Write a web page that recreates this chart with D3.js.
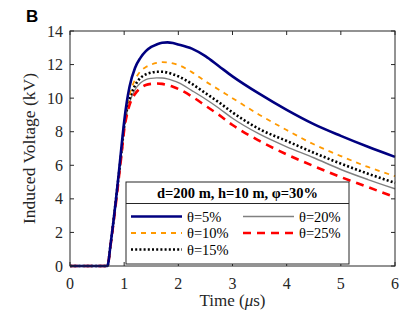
<!DOCTYPE html>
<html>
<head>
<meta charset="utf-8">
<script src="https://cdn.jsdelivr.net/npm/d3@7"></script>
<style>
  body { margin: 0; background: #fff; }
  svg { display: block; }
</style>
</head>
<body>
<svg id="chart" width="414" height="321"></svg>
<script>
// induced voltage waveforms, d=200 m, h=10 m
var time = [0, 0.69, 0.75, 0.8, 0.85, 0.9, 0.95, 1.0, 1.05, 1.1, 1.2, 1.3, 1.4, 1.5, 1.6, 1.7, 1.8, 1.9, 2.0, 2.25, 2.5, 2.75, 3.0, 3.5, 4.0, 4.5, 5.0, 5.5, 6.0];
var theta5  = [0, 0, 1.3, 2.6, 4.0, 5.5, 7.1, 8.6, 9.8, 10.7, 11.8, 12.4, 12.8, 13.05, 13.2, 13.3, 13.32, 13.28, 13.2, 12.95, 12.5, 11.9, 11.3, 10.25, 9.3, 8.45, 7.75, 7.1, 6.5];
var theta10 = [0, 0, 1.3, 2.6, 4.0, 5.4, 6.9, 8.4, 9.5, 10.2, 11.1, 11.6, 11.85, 12.0, 12.1, 12.15, 12.13, 12.07, 11.98, 11.55, 11.0, 10.5, 10.0, 9.0, 8.1, 7.25, 6.55, 5.9, 5.35];
var theta15 = [0, 0, 1.3, 2.6, 4.0, 5.4, 6.8, 8.3, 9.3, 9.95, 10.75, 11.2, 11.42, 11.52, 11.57, 11.57, 11.52, 11.42, 11.3, 10.85, 10.3, 9.75, 9.15, 8.15, 7.45, 6.75, 6.1, 5.5, 4.95];
var theta20 = [0, 0, 1.3, 2.6, 4.0, 5.4, 6.8, 8.2, 9.15, 9.75, 10.5, 10.9, 11.1, 11.18, 11.21, 11.2, 11.15, 11.05, 10.93, 10.45, 9.95, 9.4, 8.8, 7.85, 7.1, 6.45, 5.75, 5.15, 4.6];
var theta25 = [0, 0, 1.25, 2.5, 3.8, 5.2, 6.6, 8.1, 9.0, 9.6, 10.25, 10.6, 10.78, 10.85, 10.87, 10.85, 10.78, 10.68, 10.55, 10.1, 9.55, 9.0, 8.4, 7.45, 6.65, 5.95, 5.3, 4.7, 4.1];

var seriesNames = ["θ=5%", "θ=10%", "θ=15%", "θ=20%", "θ=25%"];
var xTicks = [0, 1, 2, 3, 4, 5, 6];
var yTicks = [0, 2, 4, 6, 8, 10, 12, 14];

var styles = [
  {color: "#000080", width: 2.6, dash: null},
  {color: "#ff9900", width: 1.8, dash: "5,5"},
  {color: "#000000", width: 2.6, dash: "2,2.2"},
  {color: "#808080", width: 1.4, dash: null},
  {color: "#ff0000", width: 2.6, dash: "8,6"}
];
var allSeries = [theta5, theta10, theta15, theta20, theta25];
var drawOrder = [3, 2, 1, 4, 0];

var svg = d3.select("#chart");
var pLeft = 70, pRight = 395, pTop = 31, pBottom = 266;

var x = d3.scaleLinear().domain([0, 6]).range([pLeft, pRight]);
var y = d3.scaleLinear().domain([0, 14]).range([pBottom, pTop]);
var serif = "'Liberation Serif', 'Times New Roman', serif";
var axisColor = "#262626";

// panel label
svg.append("text").attr("x", 26).attr("y", 22)
  .attr("font-family", "'Liberation Sans', Arial, sans-serif")
  .attr("font-weight", "bold").attr("font-size", 17).text("B");

var line = d3.line()
  .x(function(d, i) { return x(time[i]); })
  .y(function(d) { return y(d); })
  .curve(d3.curveMonotoneX);

var plot = svg.append("g");
drawOrder.forEach(function(k) {
  var s = styles[k];
  plot.append("path").datum(allSeries[k])
    .attr("fill", "none")
    .attr("stroke", s.color)
    .attr("stroke-width", s.width)
    .attr("stroke-dasharray", s.dash)
    .attr("d", line);
});

// axes with mirrored inward ticks
var tl = 4;
var ax = svg.append("g").attr("stroke", axisColor).attr("stroke-width", 1).attr("fill", "none");
ax.append("rect").attr("x", pLeft).attr("y", pTop).attr("width", pRight - pLeft).attr("height", pBottom - pTop);
xTicks.forEach(function(t) {
  ax.append("line").attr("x1", x(t)).attr("x2", x(t)).attr("y1", pBottom).attr("y2", pBottom - tl);
  ax.append("line").attr("x1", x(t)).attr("x2", x(t)).attr("y1", pTop).attr("y2", pTop + tl);
});
yTicks.forEach(function(t) {
  ax.append("line").attr("y1", y(t)).attr("y2", y(t)).attr("x1", pLeft).attr("x2", pLeft + tl);
  ax.append("line").attr("y1", y(t)).attr("y2", y(t)).attr("x1", pRight).attr("x2", pRight - tl);
});

svg.append("g").selectAll("text").data(xTicks).enter().append("text")
  .attr("x", function(d) { return x(d); }).attr("y", 288.5)
  .attr("text-anchor", "middle").attr("font-family", serif).attr("font-size", 16)
  .attr("fill", axisColor).text(function(d) { return d; });

svg.append("g").selectAll("text").data(yTicks).enter().append("text")
  .attr("x", 63).attr("y", function(d) { return y(d) + 5.5; })
  .attr("text-anchor", "end").attr("font-family", serif).attr("font-size", 16)
  .attr("fill", axisColor).text(function(d) { return d; });

var xt = svg.append("text").attr("x", (pLeft + pRight) / 2).attr("y", 306)
  .attr("text-anchor", "middle").attr("font-family", serif).attr("font-size", 17).attr("fill", axisColor);
xt.append("tspan").text("Time (");
xt.append("tspan").attr("font-style", "italic").text("μ");
xt.append("tspan").text("s)");

svg.append("text")
  .attr("transform", "translate(35," + ((pTop + pBottom) / 2) + ") rotate(-90)")
  .attr("text-anchor", "middle").attr("font-family", serif).attr("font-size", 17.5)
  .attr("fill", axisColor).text("Induced Voltage (kV)");

// legend
var lg = svg.append("g");
lg.append("rect").attr("x", 126).attr("y", 182).attr("width", 223).attr("height", 82)
  .attr("fill", "#fff").attr("stroke", axisColor).attr("stroke-width", 1);
lg.append("line").attr("x1", 126).attr("x2", 349).attr("y1", 203.5).attr("y2", 203.5)
  .attr("stroke", axisColor).attr("stroke-width", 1);
lg.append("text").attr("x", 237.5).attr("y", 198).attr("text-anchor", "middle")
  .attr("font-family", serif).attr("font-weight", "bold").attr("font-size", 14.5)
  .text("d=200 m, h=10 m, φ=30%");

var slots = [[131, 216.5], [131, 233], [131, 249.5], [243, 216.5], [243, 233]];
seriesNames.forEach(function(name, k) {
  var s = styles[k], p = slots[k];
  lg.append("line").attr("x1", p[0]).attr("x2", p[0] + 51).attr("y1", p[1]).attr("y2", p[1])
    .attr("stroke", s.color).attr("stroke-width", s.width).attr("stroke-dasharray", s.dash);
  lg.append("text").attr("x", p[0] + 56).attr("y", p[1] + 5)
    .attr("font-family", serif).attr("font-size", 14.5).text(name);
});
</script>
</body>
</html>
